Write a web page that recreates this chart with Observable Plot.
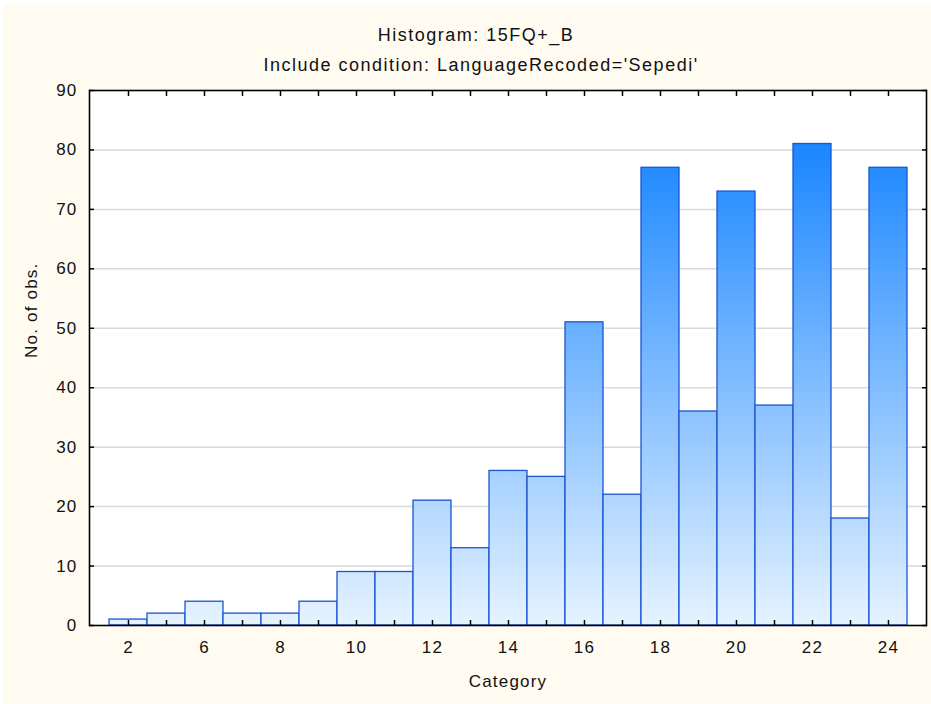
<!DOCTYPE html>
<html>
<head>
<meta charset="utf-8">
<script src="https://cdn.jsdelivr.net/npm/d3@7"></script>
<script src="https://cdn.jsdelivr.net/npm/@observablehq/plot@0.6"></script>
<style>
  html, body { margin: 0; padding: 0; background: #ffffff; }
  #page { position: relative; width: 931px; height: 704px; overflow: hidden; font-family: "Liberation Sans", Arial, sans-serif; }
  #panel { position: absolute; left: 3px; top: 5px; right: 0; bottom: 0; background: #fffbf0; }
  .ttl { position: absolute; white-space: nowrap; transform: translateX(-50%); font-size: 18px; line-height: 18px; letter-spacing: 1.5px; color: #111; }
  #chart { position: absolute; left: 0; top: 0; }
</style>
</head>
<body>
<div id="page">
  <div id="panel"></div>
  <div class="ttl" id="t1" style="left:476px; top:26px;"></div>
  <div class="ttl" id="t2" style="left:481px; top:56px;"></div>
  <div id="chart"></div>
</div>
<script>
const titleText = "Histogram: 15FQ+_B";
const subtitleText = "Include condition: LanguageRecoded='Sepedi'";
const xLabel = "Category";
const yLabel = "No. of obs.";

const categories = ["2","4","6","7","8","9","10","11","12","13","14","15","16","17","18","19","20","21","22","23","24"];
const counts = [1, 2, 4, 2, 2, 4, 9, 9, 21, 13, 26, 25, 51, 22, 77, 36, 73, 37, 81, 18, 77];
const xTickLabels = ["2","6","8","10","12","14","16","18","20","22","24"];
const yTicks = [0, 10, 20, 30, 40, 50, 60, 70, 80, 90];
const gridLines = [10, 20, 30, 40, 50, 60, 70, 80];

document.getElementById("t1").textContent = titleText;
document.getElementById("t2").textContent = subtitleText;

const data = categories.map((c, i) => ({category: c, count: counts[i]}));
const gradTop = d3.max(counts);

function gradientDefs(index, scales) {
  const ns = "http://www.w3.org/2000/svg";
  const defs = document.createElementNS(ns, "defs");
  const lg = document.createElementNS(ns, "linearGradient");
  lg.setAttribute("id", "barGrad");
  lg.setAttribute("gradientUnits", "userSpaceOnUse");
  lg.setAttribute("x1", 0); lg.setAttribute("x2", 0);
  lg.setAttribute("y1", scales.y(0));
  lg.setAttribute("y2", scales.y(gradTop));
  const s1 = document.createElementNS(ns, "stop");
  s1.setAttribute("offset", "0"); s1.setAttribute("stop-color", "#e6f3ff");
  const s2 = document.createElementNS(ns, "stop");
  s2.setAttribute("offset", "1"); s2.setAttribute("stop-color", "#1a86ff");
  lg.appendChild(s1); lg.appendChild(s2);
  defs.appendChild(lg);
  return defs;
}

const chart = Plot.plot({
  width: 931,
  height: 704,
  marginLeft: 89,
  marginRight: 5,
  marginTop: 90,
  marginBottom: 79,
  style: {background: "transparent", fontFamily: "'Liberation Sans', Arial, sans-serif", fontSize: "17px", color: "#111", letterSpacing: "1.2px"},
  x: {type: "band", domain: categories, paddingInner: 0, paddingOuter: 0.47},
  y: {domain: [0, 90]},
  marks: [
    Plot.frame({fill: "white"}),
    Plot.ruleY(gridLines, {stroke: "#d9d9d9", strokeWidth: 1.5}),
    gradientDefs,
    Plot.barY(data, {x: "category", y: "count", fill: "url(#barGrad)", stroke: "#1b55d0", strokeWidth: 1.3}),
    Plot.axisX({anchor: "bottom", tickSize: 5, dy: -5, stroke: "#000", strokeWidth: 1.5, fill: "none", label: null, tickFormat: () => ""}),
    Plot.axisX({anchor: "top", tickSize: 5, dy: 5, stroke: "#000", strokeWidth: 1.5, fill: "none", label: null, tickFormat: () => ""}),
    Plot.axisX(xTickLabels, {anchor: "bottom", tickSize: 0, tickPadding: 15, label: null, fill: "#111"}),
    Plot.axisY(yTicks, {anchor: "left", tickSize: 5, dx: 5, stroke: "#000", strokeWidth: 1.5, fill: "none", label: null, tickFormat: () => ""}),
    Plot.axisY(yTicks, {anchor: "right", tickSize: 5, dx: -5, stroke: "#000", strokeWidth: 1.5, fill: "none", label: null, tickFormat: () => ""}),
    Plot.axisY(yTicks, {anchor: "left", tickSize: 0, tickPadding: 12, label: null, fill: "#111"}),
    Plot.frame({stroke: "#000", strokeWidth: 1.6}),
    Plot.text([xLabel], {frameAnchor: "bottom", dy: 61, fill: "#111"}),
    Plot.text([yLabel], {frameAnchor: "left", dx: -58, rotate: -90, fill: "#111"})
  ]
});
document.getElementById("chart").appendChild(chart);
</script>
</body>
</html>
